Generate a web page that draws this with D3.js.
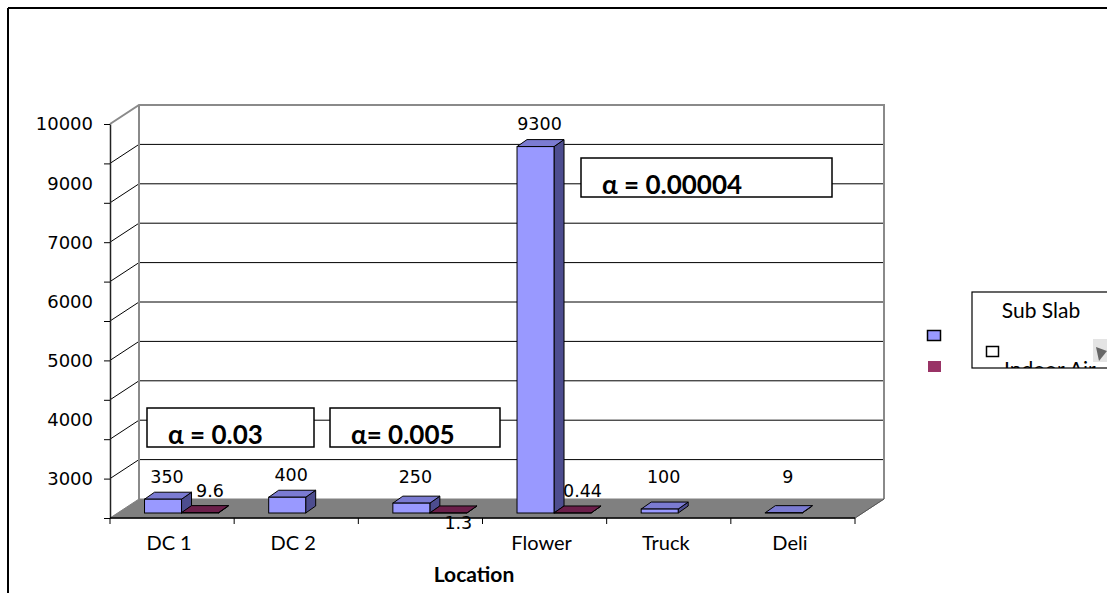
<!DOCTYPE html>
<html lang="en">
<head>
<meta charset="UTF-8">
<title>Location</title>
<script src="https://cdn.jsdelivr.net/npm/d3@7"></script>
<style>
  body { margin: 0; background: #fff; }
  svg { display: block; }
</style>
</head>
<body>
<script>
  // chart data
  const categories = ["DC 1", "DC 2", "", "Flower", "Truck", "Deli"];
  const subSlab = [350, 400, 250, 9300, 100, 9];
  const indoorAir = [9.6, null, 1.3, 0.44, null, null];
  const seriesNames = ["Sub Slab", "Indoor Air"];
  const tickLabels = ["10000", "9000", "7000", "6000", "5000", "4000", "3000"];
  const alphaNotes = ["α = 0.03", "α= 0.005", "α = 0.00004"];
  const labelBelow = [false, false, true, false, false, false]; // indoor air label placement

  const W = 1107, H = 593;
  const calibri = "Lato, 'Open Sans', sans-serif";
  const tahoma = "'DejaVu Sans', sans-serif";

  const svg = d3.select("body").append("svg")
    .attr("width", W)
    .attr("height", H);

  // outer frame (top and left edges only are visible)
  svg.append("line").attr("x1", 8).attr("x2", W).attr("y1", 8).attr("y2", 8)
    .attr("stroke", "#000").attr("stroke-width", 2);
  svg.append("line").attr("x1", 8).attr("x2", 8).attr("y1", 8).attr("y2", H)
    .attr("stroke", "#000").attr("stroke-width", 2);

  // scales
  const x = d3.scaleBand().domain(d3.range(categories.length)).range([110, 855]);
  const y = d3.scaleLinear().domain([0, 10000]).range([518, 124]);
  const wallDX = 29, wallDY = -19;   // depth of the plot box
  const barShiftY = -5;              // bars stand a bit behind the front edge
  const barDX = 10, barDY = -7;      // bar depth
  const bw = x.bandwidth();
  const xSeries = d3.scaleBand().domain(seriesNames).range([bw * 0.278, bw * 0.278 + 74]);

  const left = x.range()[0], right = x.range()[1];
  const gridValues = d3.range(0, 10001, 1000);

  // back wall
  svg.append("rect")
    .attr("x", left + wallDX).attr("y", y(10000) + wallDY)
    .attr("width", right - left).attr("height", y(0) - y(10000))
    .attr("fill", "#fff");

  svg.selectAll(".grid")
    .data(gridValues.slice(1, -1))
    .join("line")
    .attr("class", "grid")
    .attr("x1", left + wallDX).attr("x2", right + wallDX)
    .attr("y1", d => y(d) + wallDY).attr("y2", d => y(d) + wallDY)
    .attr("stroke", "#000").attr("stroke-width", 1);

  // side wall diagonals
  svg.selectAll(".diag")
    .data(gridValues.slice(1, -1))
    .join("line")
    .attr("class", "diag")
    .attr("x1", left).attr("x2", left + wallDX)
    .attr("y1", d => y(d)).attr("y2", d => y(d) + wallDY)
    .attr("stroke", "#000").attr("stroke-width", 1);

  // wall edges
  const edge = "#8a8a8a";
  svg.append("path")
    .attr("d", `M${left},${y(10000)} L${left + wallDX},${y(10000) + wallDY} L${right + wallDX},${y(10000) + wallDY} L${right + wallDX},${y(0) + wallDY}`)
    .attr("fill", "none").attr("stroke", edge).attr("stroke-width", 2);
  svg.append("line")
    .attr("x1", left + wallDX).attr("x2", left + wallDX)
    .attr("y1", y(10000) + wallDY).attr("y2", y(0) + wallDY)
    .attr("stroke", edge).attr("stroke-width", 2);

  // floor
  svg.append("polygon")
    .attr("points", [[left, y(0)], [right, y(0)], [right + wallDX, y(0) + wallDY], [left + wallDX, y(0) + wallDY]].join(" "))
    .attr("fill", "#808080")
    .attr("stroke", "#808080");
  svg.append("line")
    .attr("x1", right).attr("x2", right + wallDX)
    .attr("y1", y(0)).attr("y2", y(0) + wallDY)
    .attr("stroke", "#555").attr("stroke-width", 1);

  // y axis
  svg.append("g")
    .attr("transform", `translate(${left},0)`)
    .call(d3.axisLeft(y).tickValues(gridValues).tickFormat("").tickSize(6).tickSizeOuter(0))
    .call(g => g.select(".domain").attr("stroke", "#222").attr("stroke-width", 1.5));

  const yLab = d3.scalePoint().domain(tickLabels).range([y(10000), y(1000)]);
  svg.selectAll(".ylab")
    .data(tickLabels)
    .join("text")
    .attr("class", "ylab")
    .attr("x", 93)
    .attr("y", d => yLab(d))
    .attr("dy", "0.36em")
    .attr("text-anchor", "end")
    .style("font-family", tahoma)
    .style("font-size", "18px")
    .text(d => d);

  // x axis
  svg.append("line")
    .attr("x1", left).attr("x2", right).attr("y1", y(0)).attr("y2", y(0))
    .attr("stroke", "#000").attr("stroke-width", 1.5);
  svg.selectAll(".xtick")
    .data(d3.range(categories.length + 1))
    .join("line")
    .attr("class", "xtick")
    .attr("x1", i => left + i * bw).attr("x2", i => left + i * bw)
    .attr("y1", y(0)).attr("y2", y(0) + 6)
    .attr("stroke", "#000").attr("stroke-width", 1);

  svg.selectAll(".xlab")
    .data(categories)
    .join("text")
    .attr("class", "xlab")
    .attr("x", (d, i) => x(i) + bw / 2 - 3)
    .attr("y", 550)
    .attr("text-anchor", "middle")
    .style("font-family", calibri)
    .style("font-size", "20px")
    .text(d => d);

  svg.append("text")
    .attr("x", 474).attr("y", 582)
    .attr("text-anchor", "middle")
    .style("font-family", calibri)
    .style("font-size", "21px")
    .style("font-weight", "bold")
    .text("Location");

  // bars
  const palettes = {
    "Sub Slab": { front: "#9999ff", top: "#7b7bd2", side: "#4d4d8f" },
    "Indoor Air": { front: "#993366", top: "#6b1f4a", side: "#4d1a35" }
  };
  const base = y(0) + barShiftY;
  const yBar = v => y(v) + barShiftY;

  function drawBar(g, i, name, v) {
    const c = palettes[name];
    const x0 = x(i) + xSeries(name);
    const w = xSeries.bandwidth();
    const yt = yBar(v);
    g.append("polygon")
      .attr("points", [[x0 + w, yt], [x0 + w + barDX, yt + barDY], [x0 + w + barDX, base + barDY], [x0 + w, base]].join(" "))
      .attr("fill", c.side).attr("stroke", "#000").attr("stroke-width", 1);
    g.append("polygon")
      .attr("points", [[x0, yt], [x0 + w, yt], [x0 + w + barDX, yt + barDY], [x0 + barDX, yt + barDY]].join(" "))
      .attr("fill", c.top).attr("stroke", "#000").attr("stroke-width", 1);
    g.append("rect")
      .attr("x", x0).attr("y", yt)
      .attr("width", w).attr("height", Math.max(0, base - yt))
      .attr("fill", c.front).attr("stroke", "#000").attr("stroke-width", 1);
  }

  const bars = svg.append("g");
  categories.forEach((c, i) => {
    if (subSlab[i] != null) drawBar(bars, i, seriesNames[0], subSlab[i]);
    if (indoorAir[i] != null) drawBar(bars, i, seriesNames[1], indoorAir[i]);
  });

  // data labels
  const labels = svg.append("g")
    .style("font-family", tahoma)
    .style("font-size", "17.5px")
    .attr("text-anchor", "middle");
  subSlab.forEach((v, i) => {
    if (v == null) return;
    labels.append("text")
      .attr("x", x(i) + xSeries(seriesNames[0]) + xSeries.bandwidth() / 2 + 4)
      .attr("y", Math.min(yBar(v) - 23, 477))
      .attr("dy", "0.36em")
      .text(v);
  });
  indoorAir.forEach((v, i) => {
    if (v == null) return;
    labels.append("text")
      .attr("x", x(i) + xSeries(seriesNames[1]) + xSeries.bandwidth() / 2 + 10)
      .attr("y", labelBelow[i] ? base + 10 : yBar(v) - 22)
      .attr("dy", "0.36em")
      .text(v);
  });

  // alpha annotation boxes
  const noteBoxes = [
    { x: 147, y: 408, w: 167, h: 39 },
    { x: 330, y: 408, w: 170, h: 39 },
    { x: 581, y: 158, w: 251, h: 39 }
  ];
  const notes = svg.selectAll(".note")
    .data(alphaNotes)
    .join("g")
    .attr("class", "note")
    .attr("transform", (d, i) => `translate(${noteBoxes[i].x},${noteBoxes[i].y})`);
  notes.append("rect")
    .attr("width", (d, i) => noteBoxes[i].w)
    .attr("height", (d, i) => noteBoxes[i].h)
    .attr("fill", "#fff")
    .attr("stroke", "#000")
    .attr("stroke-width", 1.5);
  notes.append("text")
    .attr("x", 21)
    .attr("y", 36)
    .style("font-family", calibri)
    .style("font-size", "26px")
    .style("font-weight", "bold")
    .text(d => d);

  // legend
  svg.append("rect").attr("x", 927.5).attr("y", 330.5).attr("width", 13).attr("height", 10)
    .attr("fill", "#9999ff").attr("stroke", "#000").attr("stroke-width", 1.5);
  svg.append("rect").attr("x", 928).attr("y", 361).attr("width", 13).attr("height", 11)
    .attr("fill", "#993366");

  svg.append("clipPath").attr("id", "legclip")
    .append("rect").attr("x", 972).attr("y", 292).attr("width", 140).attr("height", 76);
  svg.append("rect").attr("x", 972).attr("y", 292).attr("width", 140).attr("height", 76)
    .attr("fill", "#fff").attr("stroke", "#000").attr("stroke-width", 1.2);
  const leg = svg.append("g").attr("clip-path", "url(#legclip)");
  leg.append("text")
    .attr("x", 1041).attr("y", 318)
    .attr("text-anchor", "middle")
    .style("font-family", calibri)
    .style("font-size", "21px")
    .text(seriesNames[0]);
  leg.append("rect").attr("x", 986.5).attr("y", 346.5).attr("width", 12).attr("height", 10)
    .attr("fill", "#fff").attr("stroke", "#000").attr("stroke-width", 1.5);
  leg.append("text")
    .attr("x", 1004).attr("y", 377)
    .style("font-family", calibri)
    .style("font-size", "21px")
    .text(seriesNames[1]);
  leg.append("rect").attr("x", 1093).attr("y", 339).attr("width", 14).attr("height", 23)
    .attr("fill", "#e4e4e4");
  leg.append("polygon")
    .attr("points", "1096,347 1107,351 1099,361")
    .attr("fill", "#666");
</script>
</body>
</html>
